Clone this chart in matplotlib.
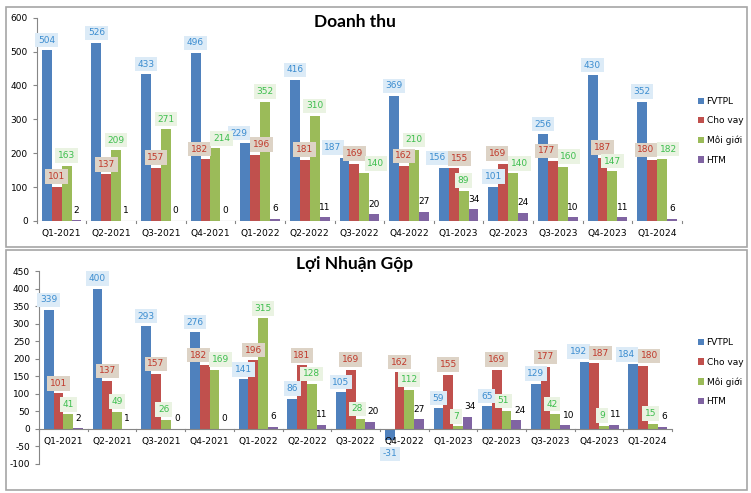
import numpy as np
import matplotlib
matplotlib.use('Agg')
import matplotlib.pyplot as plt
from matplotlib.patches import Rectangle

plt.rcParams['font.family'] = ['DejaVu Sans']
plt.rcParams['axes.unicode_minus'] = False

# quarters and series
quarters = ['Q1-2021', 'Q2-2021', 'Q3-2021', 'Q4-2021', 'Q1-2022', 'Q2-2022', 'Q3-2022',
            'Q4-2022', 'Q1-2023', 'Q2-2023', 'Q3-2023', 'Q4-2023', 'Q1-2024']
series_names = ['FVTPL', 'Cho vay', 'Môi giới', 'HTM']

# Doanh thu
rev_fvtpl = [504, 526, 433, 496, 229, 416, 187, 369, 156, 101, 256, 430, 352]
rev_chovay = [101, 137, 157, 182, 196, 181, 169, 162, 155, 169, 177, 187, 180]
rev_moigioi = [163, 209, 271, 214, 352, 310, 140, 210, 89, 140, 160, 147, 182]
rev_htm = [2, 1, 0, 0, 6, 11, 20, 27, 34, 24, 10, 11, 6]

# Loi nhuan gop
gp_fvtpl = [339, 400, 293, 276, 141, 86, 105, -31, 59, 65, 129, 192, 184]
gp_chovay = [101, 137, 157, 182, 196, 181, 169, 162, 155, 169, 177, 187, 180]
gp_moigioi = [41, 49, 26, 169, 315, 128, 28, 112, 7, 51, 42, 9, 15]
gp_htm = [2, 1, 0, 0, 6, 11, 20, 27, 34, 24, 10, 11, 6]

colors = ['#4F81BD', '#C0504D', '#9BBB59', '#8064A2']
text_colors = ['#3C8DD0', '#C0392B', '#3DBE4E', 'black']
box_colors = ['#DCEBF7', '#DDD3C6', '#EAF3E2', None]

fig = plt.figure(figsize=(7.51, 4.93), dpi=100)

# panel borders
for y0, h in [(7 / 493, 240 / 493), (250 / 493, 240 / 493)]:
    fig.patches.append(Rectangle((6 / 751, 1 - y0 - h), 741 / 751, h, transform=fig.transFigure,
                                 fill=False, edgecolor='#A6A6A6', linewidth=1.2))

all_groups = []


def draw(ax, data, ylim, step, title, title_y, legend_y):
    x = np.arange(len(quarters))
    w = 0.2
    groups = [[] for _ in quarters]
    for i, vals in enumerate(data):
        pos = x + (i - 1.5) * w
        ax.bar(pos, vals, w, color=colors[i], label=series_names[i])
        for k, (p, v) in enumerate(zip(pos, vals)):
            bb = None
            if box_colors[i]:
                bb = dict(boxstyle='square,pad=0.3', fc=box_colors[i], ec='none')
            off = 4 if v >= 0 else -7
            a = ax.annotate(str(v), (p, v), xytext=(0, off), textcoords='offset points',
                            ha='center', va='bottom' if v >= 0 else 'top', fontsize=6.5,
                            color=text_colors[i], bbox=bb, zorder=5)
            groups[k].append(a)
    all_groups.extend(groups)
    ax.set_xlim(-0.5, len(quarters) - 0.5)
    ax.set_ylim(*ylim)
    ax.set_yticks(np.arange(ylim[0], ylim[1] + 1, step))
    ax.tick_params(axis='y', labelsize=6.5, length=3, color='#868686')
    ax.set_xticks([])
    for s in ['top', 'right', 'bottom']:
        ax.spines[s].set_visible(False)
    ax.spines['left'].set_color('#868686')
    # horizontal axis at zero, with category separators
    ax.axhline(0, color='#868686', linewidth=0.8)
    for k in range(len(quarters) + 1):
        ax.plot([k - 0.5, k - 0.5], [0, -(ylim[1] - ylim[0]) * 0.012], color='#868686',
                linewidth=0.8, clip_on=False)
    for k, q in enumerate(quarters):
        ax.annotate(q, (k, 0), xytext=(0, -6), textcoords='offset points', ha='center',
                    va='top', fontsize=6.6, annotation_clip=False)
    fig.text(0.472, title_y, title, ha='center', va='center', fontsize=12.5,
             fontweight='bold', family=['Lato', 'DejaVu Sans'])
    h, l = ax.get_legend_handles_labels()
    fig.legend(h, l, loc='upper left', bbox_to_anchor=(0.918, legend_y), frameon=False,
               fontsize=6.5, handlelength=0.7, handleheight=0.7, handletextpad=0.3,
               labelspacing=1.15)


ax1 = fig.add_axes([0.049, 0.552, 0.859, 0.412])
draw(ax1, [rev_fvtpl, rev_chovay, rev_moigioi, rev_htm], (0, 600), 100, 'Doanh thu',
     1 - 22 / 493, 0.82)
ax2 = fig.add_axes([0.052, 0.059, 0.843, 0.391])
draw(ax2, [gp_fvtpl, gp_chovay, gp_moigioi, gp_htm], (-100, 450), 50, 'Lợi Nhuận Gộp',
     1 - 264 / 493, 0.33)

# push apart value labels of one quarter that sit on top of each other
fig.canvas.draw()
r = fig.canvas.get_renderer()
px2pt = 72 / fig.dpi
for g in all_groups:
    for _ in range(4):
        boxes = [a.get_window_extent(r) for a in g]
        moved = False
        for i in range(len(g)):
            for j in range(i + 1, len(g)):
                bi, bj = boxes[i], boxes[j]
                ox = min(bi.x1, bj.x1) - max(bi.x0, bj.x0) + 5
                oy = min(bi.y1, bj.y1) - max(bi.y0, bj.y0) + 4
                if ox > 0 and oy > 0:
                    dxi, dyi = g[i].xyann
                    dxj, dyj = g[j].xyann
                    g[i].xyann = (dxi - ox / 2 * px2pt, dyi)
                    g[j].xyann = (dxj + ox / 2 * px2pt, dyj)
                    moved = True
        if not moved:
            break
        fig.canvas.draw()

fig.savefig('out.png', dpi=100)
